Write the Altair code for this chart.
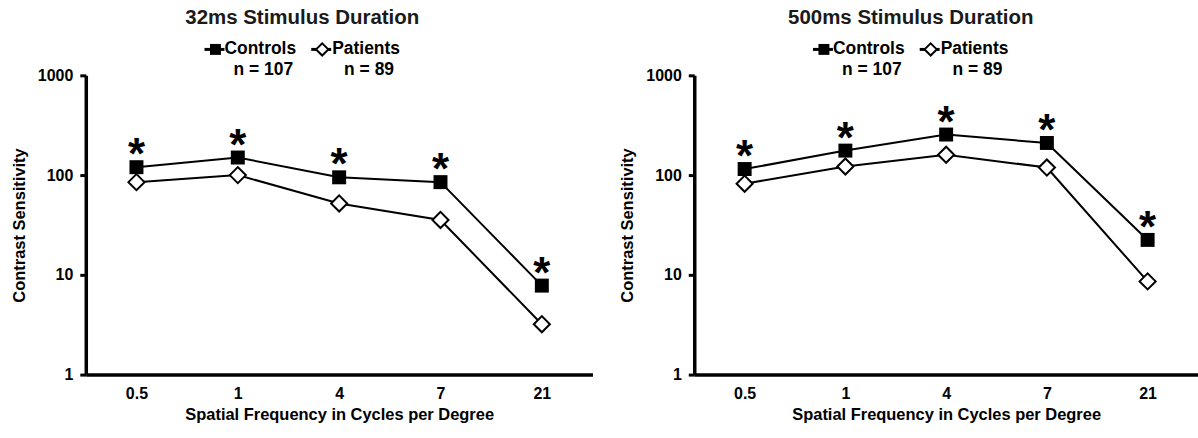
import altair as alt
import pandas as pd

freqs = ["0.5", "1", "4", "7", "21"]
ctrl_32 = [120, 150, 95, 85, 7.8]
pat_32 = [85, 100, 52, 35.5, 3.2]
ctrl_500 = [115, 176, 255, 210, 22.4]
pat_500 = [82, 122, 160, 119, 8.6]
y_ticks = [1, 10, 100, 1000]
titles = ["32ms Stimulus Duration", "500ms Stimulus Duration"]
legend_labels = ["Controls", "Patients"]
n_labels = ["n = 107", "n = 89"]
FONT = "Liberation Sans"
LEG_Y = -26
N_Y = -5


def panel(title, ctrl, pat, width):
    df = pd.DataFrame({
        "freq": freqs * 2,
        "group": ["Controls"] * 5 + ["Patients"] * 5,
        "value": ctrl + pat,
    })
    x = alt.X("freq:O", sort=freqs, scale=alt.Scale(type="point", padding=0.5),
              axis=alt.Axis(title="Spatial Frequency in Cycles per Degree", labelAngle=0,
                            ticks=False, labelPadding=11, titlePadding=5))
    y = alt.Y("value:Q", scale=alt.Scale(type="log", domain=[1, 1000]),
              axis=alt.Axis(title="Contrast Sensitivity", values=y_ticks, format="d",
                            tickSize=6, tickWidth=3, labelPadding=7, titlePadding=10,
                            grid=False))
    base = alt.Chart(df).encode(x=x, y=y)
    lines = base.mark_line(color="black", strokeWidth=2).encode(detail="group:N")
    sq = base.transform_filter(alt.datum.group == "Controls").mark_point(
        shape="square", filled=True, color="black", size=196, opacity=1)
    dm = base.transform_filter(alt.datum.group == "Patients").mark_point(
        shape="diamond", filled=True, fill="white", stroke="black", strokeWidth=2,
        size=260, opacity=1)
    star = base.transform_filter(alt.datum.group == "Controls").mark_text(
        text="*", fontSize=44, fontWeight="bold", font=FONT, baseline="alphabetic",
        dy=2, color="black")

    one = pd.DataFrame({"a": [0]})

    def txt(s, xv, yv, size, align="left", color="black"):
        return alt.Chart(one).mark_text(text=s, fontSize=size, font=FONT, fontWeight="bold",
                                        color=color, align=align, baseline="middle").encode(
            x=alt.value(xv), y=alt.value(yv))

    ttl = txt(title, 217, -57, 20.5, align="center", color="#1a1a1a")
    lg_line1 = alt.Chart(one).mark_rule(color="black", strokeWidth=3).encode(
        x=alt.value(119), x2=alt.value(139), y=alt.value(LEG_Y))
    lg_line2 = alt.Chart(one).mark_rule(color="black", strokeWidth=3).encode(
        x=alt.value(226), x2=alt.value(246), y=alt.value(LEG_Y))
    lg_sq = alt.Chart(one).mark_point(shape="square", filled=True, color="black", size=120,
                                      opacity=1).encode(x=alt.value(130), y=alt.value(LEG_Y))
    lg_dm = alt.Chart(one).mark_point(shape="diamond", filled=True, fill="white",
                                      stroke="black", strokeWidth=2, size=150,
                                      opacity=1).encode(x=alt.value(237), y=alt.value(LEG_Y))
    lg_t1 = txt(legend_labels[0], 139, LEG_Y, 17.5)
    lg_t2 = txt(legend_labels[1], 247, LEG_Y, 17.5)
    n1 = txt(n_labels[0], 178, N_Y, 17.5, align="center")
    n2 = txt(n_labels[1], 284, N_Y, 17.5, align="center")
    return alt.layer(lines, sq, dm, star, ttl, lg_line1, lg_line2, lg_sq, lg_dm,
                     lg_t1, lg_t2, n1, n2).properties(width=width, height=300)


left = panel(titles[0], ctrl_32, pat_32, 508)
right = panel(titles[1], ctrl_500, pat_500, 505)

chart = alt.hconcat(left, right, spacing=27).properties(
    padding={"left": 11, "top": 8, "right": 0, "bottom": 3},
    background="white",
).configure_view(stroke=None).configure_axis(
    domainColor="black", domainWidth=3.5, tickColor="black", labelColor="black",
    titleColor="black", labelFont=FONT, titleFont=FONT, labelFontSize=16,
    titleFontSize=16.5, labelFontWeight="bold", titleFontWeight="bold",
)

chart.save("out.html", embed_options={"renderer": "svg", "actions": False})
